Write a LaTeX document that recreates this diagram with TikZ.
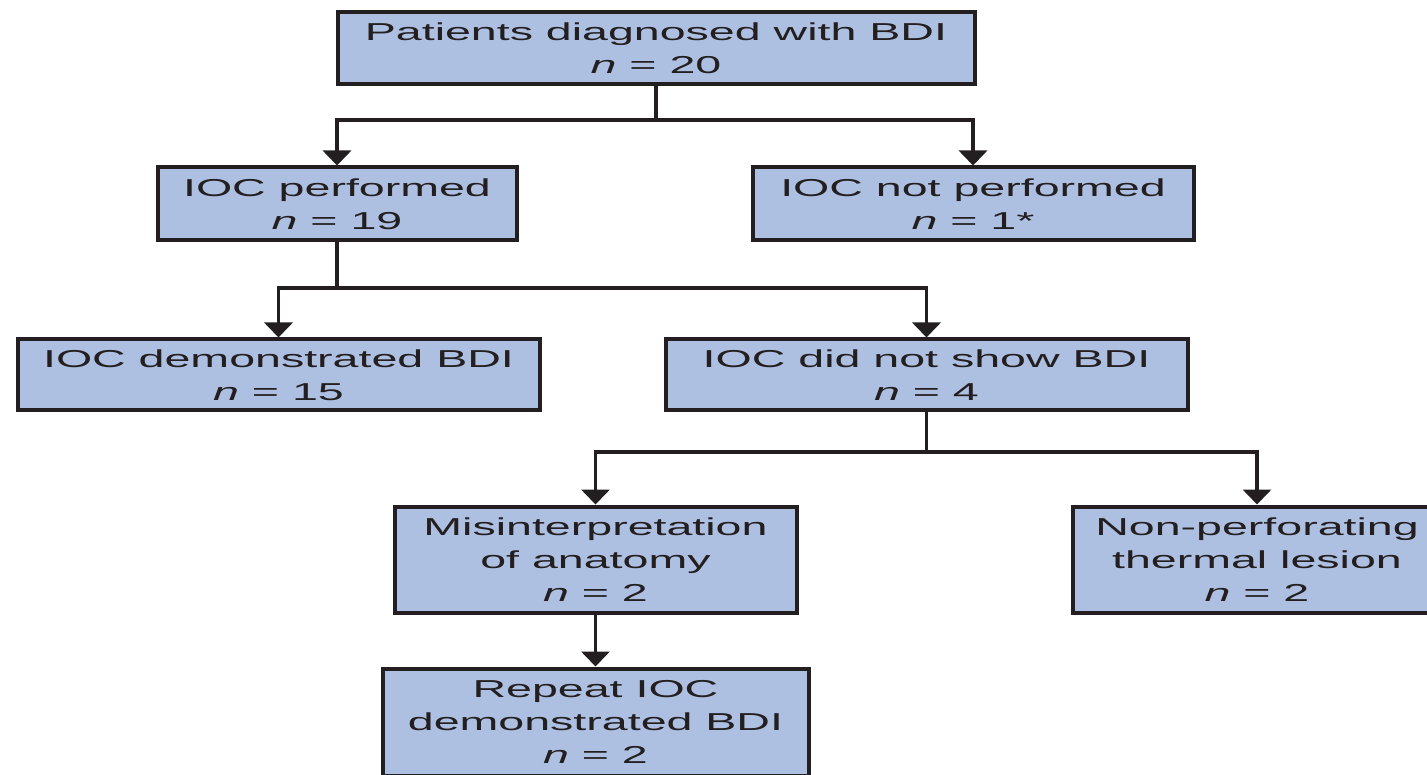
\documentclass[tikz,border=0pt]{standalone}
\usepackage{fontspec}
\usetikzlibrary{arrows.meta}
\newfontfamily\wide[FakeStretch=1.9]{Liberation Sans}
\definecolor{bx}{RGB}{174,192,226}
\definecolor{dk}{RGB}{35,31,32}
\tikzset{
  box/.style={draw=dk, fill=bx, line width=4pt, align=center, inner sep=0pt,
    font=\wide\fontsize{24.5}{33}\selectfont, text=dk},
  conn/.style={line width=3.5pt, draw=dk},
  tip/.style={-{Triangle[width=28pt,length=15pt]}}
}
\begin{document}
\begin{tikzpicture}[x=1pt,y=-1pt]
\useasboundingbox (0,0) rectangle (1427,775);
\clip (0,0) rectangle (1427,775);
\fill[white] (0,0) rectangle (1427,775);
\node[box, minimum width=637pt, minimum height=72pt] (b1) at (656,48.5)
  {Patients diagnosed with BDI\\{\itshape n} = 20};
\node[box, minimum width=359pt, minimum height=73pt] (b2) at (337,204)
  {IOC performed\\{\itshape n} = 19};
\node[box, minimum width=441pt, minimum height=73pt] (b3) at (973,204)
  {IOC not performed\\{\itshape n} = 1*};
\node[box, minimum width=522pt, minimum height=71pt] (b4) at (278.5,375)
  {IOC demonstrated BDI\\{\itshape n} = 15};
\node[box, minimum width=522pt, minimum height=71pt] (b5) at (926.5,375)
  {IOC did not show BDI\\{\itshape n} = 4};
\node[box, minimum width=402pt, minimum height=106pt] (b6) at (595.5,559.5)
  {Misinterpretation\\of anatomy\\{\itshape n} = 2};
\node[box, minimum width=369pt, minimum height=106pt] (b7) at (1257,559.5)
  {Non-perforating\\thermal lesion\\{\itshape n} = 2};
\node[box, minimum width=426pt, minimum height=107pt] (b8) at (595.5,722)
  {Repeat IOC\\demonstrated BDI\\{\itshape n} = 2};
\coordinate (j1) at (656,120);
\coordinate (j2) at (337,288);
\coordinate (j3) at (926.5,452);
\draw[conn] (b1.south) -- (j1);
\draw[conn,tip] (j1) -| (b2.north);
\draw[conn,tip] (j1) -| (b3.north);
\draw[conn] (b2.south) -- (j2);
\draw[conn,tip] (j2) -| (b4.north);
\draw[conn,tip] (j2) -| (b5.north);
\draw[conn] (b5.south) -- (j3);
\draw[conn,tip] (j3) -| (b6.north);
\draw[conn,tip] (j3) -| (b7.north);
\draw[conn,tip] (b6.south) -- (b8.north);
\end{tikzpicture}
\end{document}
